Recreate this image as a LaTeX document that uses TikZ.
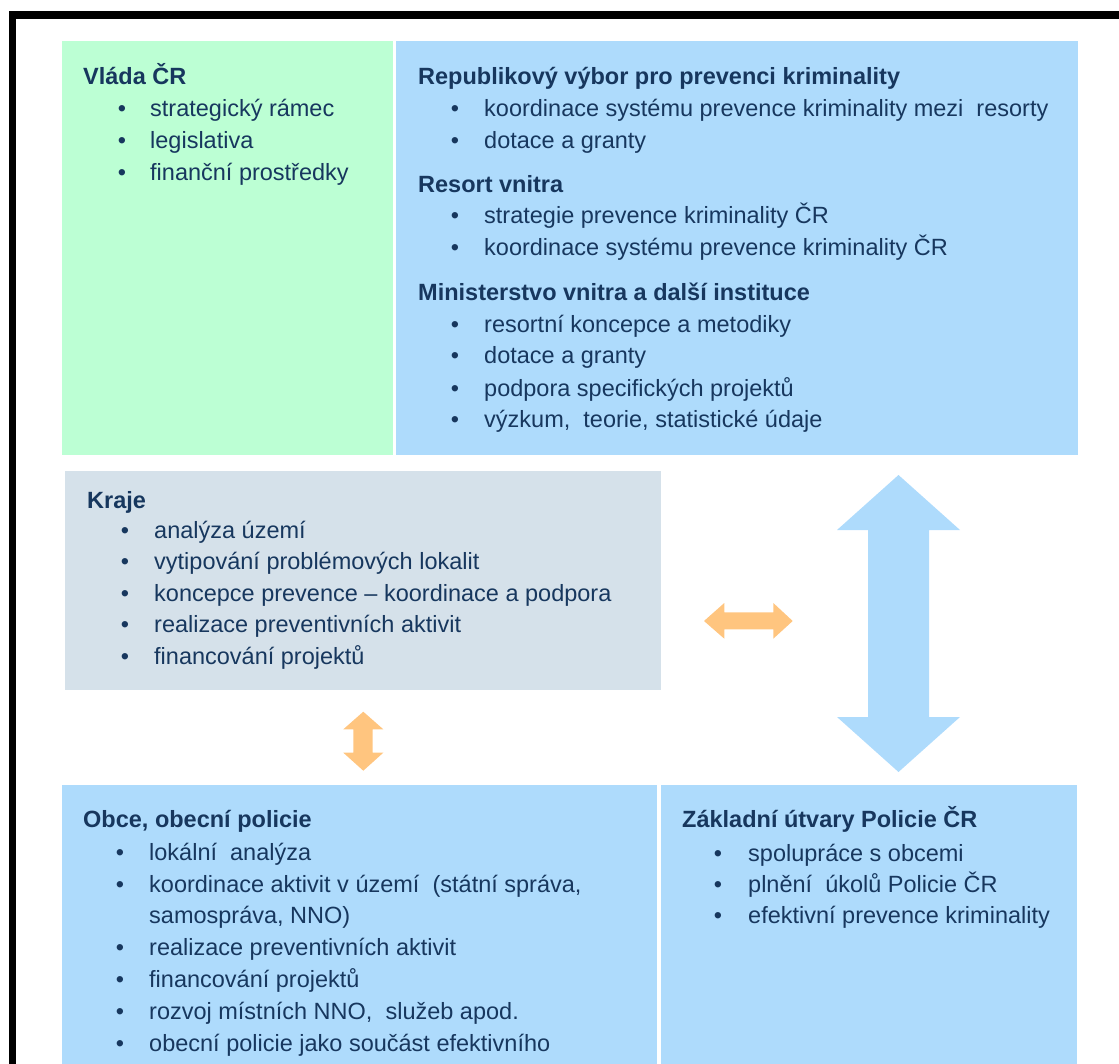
\documentclass[tikz,border=0pt]{standalone}
\usepackage{fontspec}
\setmainfont{Liberation Sans}
\usepackage{tikz}

\definecolor{txt}{HTML}{17375E}
\definecolor{vlgreen}{HTML}{BCFFD4}
\definecolor{ltblue}{HTML}{AEDBFC}
\definecolor{ltgray}{HTML}{D5E1EA}
\definecolor{ltorange}{HTML}{FFC57F}

\begin{document}
\begin{tikzpicture}[x=1pt,y=-1pt]
    \tikzstyle{box}=[anchor=north west,inner sep=0pt,outer sep=0pt]
    \tikzstyle{title}=[anchor=base west,inner sep=0pt,text=txt,font=\fontsize{23.5}{32}\selectfont\bfseries]
    \tikzstyle{item}=[anchor=base west,inner sep=0pt,text=txt,font=\fontsize{23.5}{32}\selectfont]
    \tikzstyle{dot}=[anchor=base,inner sep=0pt,text=txt,font=\fontsize{23.5}{32}\selectfont]

    \useasboundingbox (0,0) rectangle (1119,1064);
    % frame
    \fill[black] (9,11) rectangle (1119,19);
    \fill[black] (9,11) rectangle (16,1064);

    % boxes
    \node[box,fill=vlgreen,minimum width=331pt,minimum height=414pt] (vlada) at (62,41) {};
    \node[box,fill=ltblue,minimum width=682pt,minimum height=414pt] (vybor) at (396,41) {};
    \node[box,fill=ltgray,minimum width=596pt,minimum height=219pt] (kraje) at (65,471) {};
    \node[box,fill=ltblue,minimum width=595pt,minimum height=279pt] (obce) at (62,785) {};
    \node[box,fill=ltblue,minimum width=416pt,minimum height=279pt] (policie) at (661,785) {};

    % arrows
    \fill[ltorange] (704,621) -- (724.3,603) -- (724.3,612.3) -- (773.3,612.3) -- (773.3,603)
        -- (792.7,621) -- (773.3,638.7) -- (773.3,629.3) -- (724.3,629.3) -- (724.3,638.7) -- cycle;
    \fill[ltorange] (363.3,711.7) -- (383.3,729.3) -- (372.7,729.3) -- (372.7,752.7) -- (383.3,752.7)
        -- (363.3,770.7) -- (343.3,752.7) -- (353.3,752.7) -- (353.3,729.3) -- (343.3,729.3) -- cycle;
    \fill[ltblue] (898.5,475) -- (960,530) -- (929,530) -- (929,717) -- (960,717)
        -- (898.5,772) -- (837,717) -- (868,717) -- (868,530) -- (837,530) -- cycle;

    % Vlada CR
    \node[title] (vlada-t) at (83,85) {Vláda ČR};
    \foreach \y/\t in {117/strategický rámec, 149/legislativa, 181/finanční prostředky}
    {
        \node[dot] (vlada-d\y) at (122,\y) {•};
        \node[item] (vlada-i\y) at (150,\y) {\t};
    }

    % Republikovy vybor, resort, ministerstvo
    \node[title] (vybor-t) at (418,85) {Republikový výbor pro prevenci kriminality};
    \node[title] (resort-t) at (418,193) {Resort vnitra};
    \node[title] (mv-t) at (418,301) {Ministerstvo vnitra a další instituce};
    \foreach \y/\t in {117/koordinace systému prevence kriminality mezi~ resorty, 149/dotace a granty,
        224/strategie prevence kriminality ČR, 256/koordinace systému prevence kriminality ČR,
        333/resortní koncepce a metodiky, 364/dotace a granty,
        396/podpora specifických projektů, 428/{výzkum,~ teorie, statistické údaje}}
    {
        \node[dot] (vybor-d\y) at (455,\y) {•};
        \node[item] (vybor-i\y) at (484,\y) {\t};
    }

    % Kraje
    \node[title] (kraje-t) at (87,508) {Kraje};
    \foreach \y/\t in {538/analýza území, 569/vytipování problémových lokalit,
        601/koncepce prevence -- koordinace a podpora, 632/realizace preventivních aktivit,
        664/financování projektů}
    {
        \node[dot] (kraje-d\y) at (125,\y) {•};
        \node[item] (kraje-i\y) at (154,\y) {\t};
    }

    % Obce
    \node[title] (obce-t) at (83,827) {Obce, obecní policie};
    \foreach \y/\t in {860/lokální~ analýza, 892/{koordinace aktivit v území~ (státní správa,},
        955/realizace preventivních aktivit, 987/financování projektů,
        1019/{rozvoj místních NNO,~ služeb apod.}, 1051/obecní policie jako součást efektivního}
    {
        \node[dot] (obce-d\y) at (120,\y) {•};
        \node[item] (obce-i\y) at (149,\y) {\t};
    }
    \node[item] (obce-i923) at (149,923) {samospráva, NNO)};

    % Policie CR
    \node[title] (policie-t) at (682,827) {Základní útvary Policie ČR};
    \foreach \y/\t in {861/spolupráce s obcemi, 892/plnění~ úkolů Policie ČR, 923/efektivní prevence kriminality}
    {
        \node[dot] (policie-d\y) at (718,\y) {•};
        \node[item] (policie-i\y) at (748,\y) {\t};
    }
\end{tikzpicture}
\end{document}
